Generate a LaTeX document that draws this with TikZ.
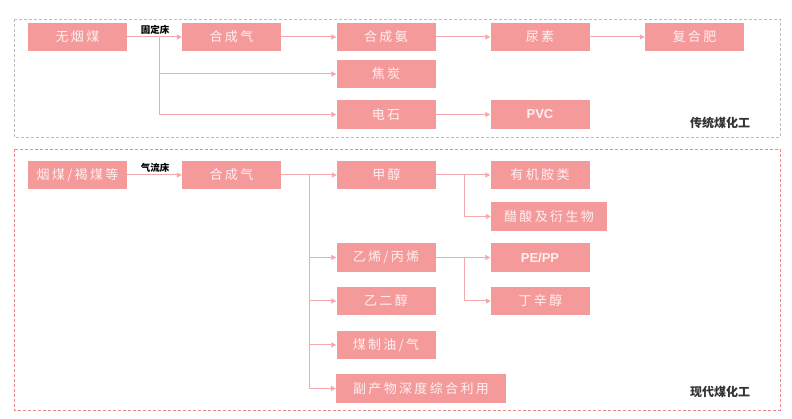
\documentclass[tikz,border=0pt]{standalone}
\usepackage{fontspec}
\setmainfont{Noto Sans CJK SC}
\newfontfamily\boxfont[LetterSpace=18]{Noto Sans CJK SC}
\newfontfamily\labfont{Noto Sans CJK SC}
\newfontfamily\latfont{Liberation Sans}
\usetikzlibrary{arrows.meta}
\definecolor{boxpink}{HTML}{F59A9B}
\definecolor{linepink}{HTML}{F6A9AC}
\definecolor{boxtext}{HTML}{FFF0F0}
\definecolor{borderred}{HTML}{EE8A8C}
\definecolor{bordergray}{HTML}{BDBDBD}
\begin{document}
\begin{tikzpicture}[x=1pt,y=-1pt,
  pbox/.style={fill=boxpink,draw=none,minimum width=99pt,minimum height=28.5pt,inner sep=0pt,
    text=boxtext,font=\boxfont\fontsize{13}{15}\selectfont},
  latbox/.style={pbox,font=\latfont\bfseries\fontsize{13}{15}\selectfont},
  conn/.style={draw=linepink,line width=1pt,-{Triangle[width=5pt,length=5pt]}},
  lab/.style={font=\labfont\bfseries\fontsize{9.5}{11}\selectfont,text=black,inner sep=0pt},
  seclab/.style={font=\labfont\bfseries\fontsize{12}{14}\selectfont,text=black!80,inner sep=0pt}]
\useasboundingbox[fill=white] (0,0) rectangle (792,419);
% section borders
\draw[bordergray,line width=0.8pt,dash pattern=on 3pt off 2pt] (14,19) rectangle (780,137);
\draw[borderred,line width=0.8pt,dash pattern=on 3pt off 2pt] (14,149) rectangle (780,410);
% traditional
\node[pbox] (wym) at (77.5,37) {无烟煤};
\node[pbox] (hcq1) at (231.5,37) {合成气};
\node[pbox] (hca) at (386,37) {合成氨};
\node[pbox] (ns) at (540,37) {尿素};
\node[pbox] (fhf) at (694.5,37) {复合肥};
\node[pbox] (jt) at (386,74) {焦炭};
\node[pbox] (ds) at (386,114.5) {电石};
\node[latbox] (pvc) at (540,114.5) {PVC};
\coordinate (b1) at (159,37);
\node[lab] (gdc) at (155,30) {固定床};
\draw[conn] (wym.east) -- (hcq1.west);
\draw[conn] (b1) |- (jt.west);
\draw[conn] (b1) |- (ds.west);
\draw[conn] (hcq1.east) -- (hca.west);
\draw[conn] (hca.east) -- (ns.west);
\draw[conn] (ns.east) -- (fhf.west);
\draw[conn] (ds.east) -- (pvc.west);
\node[seclab] (ctl) at (720,123) {传统煤化工};
% modern
\node[pbox] (ym) at (77.5,175) {烟煤/褐煤等};
\node[pbox] (hcq2) at (231.5,175) {合成气};
\node[pbox] (jc) at (386.5,175) {甲醇};
\node[pbox] (yja) at (540,175) {有机胺类};
\node[pbox,minimum width=116pt] (cs) at (549,216.5) {醋酸及衍生物};
\node[pbox] (yx) at (386,257.5) {乙烯/丙烯};
\node[latbox] (pe) at (540,257.5) {PE/PP};
\node[pbox] (dxc) at (540.5,301) {丁辛醇};
\node[pbox] (yec) at (386,301) {乙二醇};
\node[pbox] (mzy) at (386,345) {煤制油/气};
\node[pbox,minimum width=170pt] (fcw) at (421,388.5) {副产物深度综合利用};
\node[lab] (qlc) at (155,168) {气流床};
\draw[conn] (ym.east) -- (hcq2.west);
\coordinate (b2) at (309,175);
\draw[conn] (hcq2.east) -- (jc.west);
\draw[conn] (b2) |- (yx.west);
\draw[conn] (b2) |- (yec.west);
\draw[conn] (b2) |- (mzy.west);
\draw[conn] (b2) |- (fcw.west);
\coordinate (b3) at (464,175);
\draw[conn] (jc.east) -- (yja.west);
\draw[conn] (b3) |- (cs.west);
\coordinate (b4) at (464,257.5);
\draw[conn] (yx.east) -- (pe.west);
\draw[conn] (b4) |- (dxc.west);
\node[seclab] (xdl) at (720,392) {现代煤化工};
\end{tikzpicture}
\end{document}
